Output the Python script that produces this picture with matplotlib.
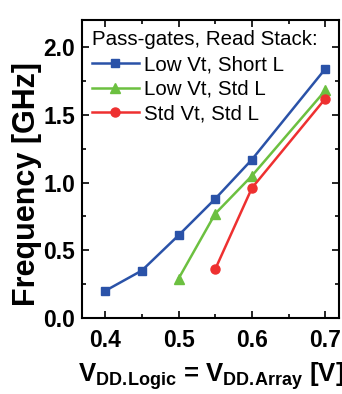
import matplotlib.pyplot as plt
from matplotlib.ticker import MultipleLocator

plt.rcParams['font.family'] = 'Liberation Sans'
plt.rcParams['mathtext.fontset'] = 'custom'
plt.rcParams['mathtext.rm'] = 'Liberation Sans:bold'
plt.rcParams['mathtext.bf'] = 'Liberation Sans:bold'

vdd_short = [0.40, 0.45, 0.50, 0.55, 0.60, 0.70]
freq_short = [0.20, 0.35, 0.61, 0.88, 1.17, 1.84]
vdd_lvt = [0.50, 0.55, 0.60, 0.70]
freq_lvt = [0.29, 0.77, 1.05, 1.68]
vdd_svt = [0.55, 0.60, 0.70]
freq_svt = [0.36, 0.96, 1.62]
labels = ['Low Vt, Short L', 'Low Vt, Std L', 'Std Vt, Std L']

fig = plt.figure(figsize=(3.42, 3.94), dpi=100)
ax = fig.add_axes([0.24, 0.193, 0.752, 0.756])

ax.plot(vdd_short, freq_short, '-s', color='#2a52a8', ms=5.5, lw=1.8, label=labels[0])
ax.plot(vdd_lvt, freq_lvt, '-^', color='#6cc040', ms=6.5, lw=1.8, label=labels[1])
ax.plot(vdd_svt, freq_svt, '-o', color='#ee3030', ms=6.5, lw=1.8, label=labels[2])

ax.set_xlim(0.3686, 0.719)
ax.set_ylim(0, 2.2)
ax.xaxis.set_major_locator(MultipleLocator(0.1))
ax.xaxis.set_minor_locator(MultipleLocator(0.05))
ax.yaxis.set_major_locator(MultipleLocator(0.5))
ax.yaxis.set_minor_locator(MultipleLocator(0.25))
ax.tick_params(which='both', direction='in', top=True, right=True, width=1.2)
ax.tick_params(which='major', length=5, labelsize=16.5)
ax.tick_params(axis='x', which='major', pad=8)
ax.tick_params(axis='y', which='major', pad=5)
ax.tick_params(which='minor', length=3)
for lab in ax.get_xticklabels() + ax.get_yticklabels():
    lab.set_fontweight('bold')
for s in ax.spines.values():
    s.set_linewidth(1.5)

ax.set_ylabel('Frequency [GHz]', fontsize=22, fontweight='bold')
ax.yaxis.set_label_coords(-0.155, 0.45)
ax.set_xlabel(r'V$_{\mathregular{DD.\!Logic}}$ = V$_{\mathregular{DD.\!Array}}$ [V]',
              fontsize=18.5, fontweight='bold')
ax.xaxis.set_label_coords(0.5, -0.14)

ax.legend(title='Pass-gates, Read Stack:', loc='upper left', frameon=False,
          fontsize=14.8, title_fontsize=14.8, alignment='left',
          handlelength=2.25, handletextpad=0.25, borderaxespad=0.3,
          labelspacing=0.28, borderpad=0.2)

fig.savefig('out.png', dpi=100)
